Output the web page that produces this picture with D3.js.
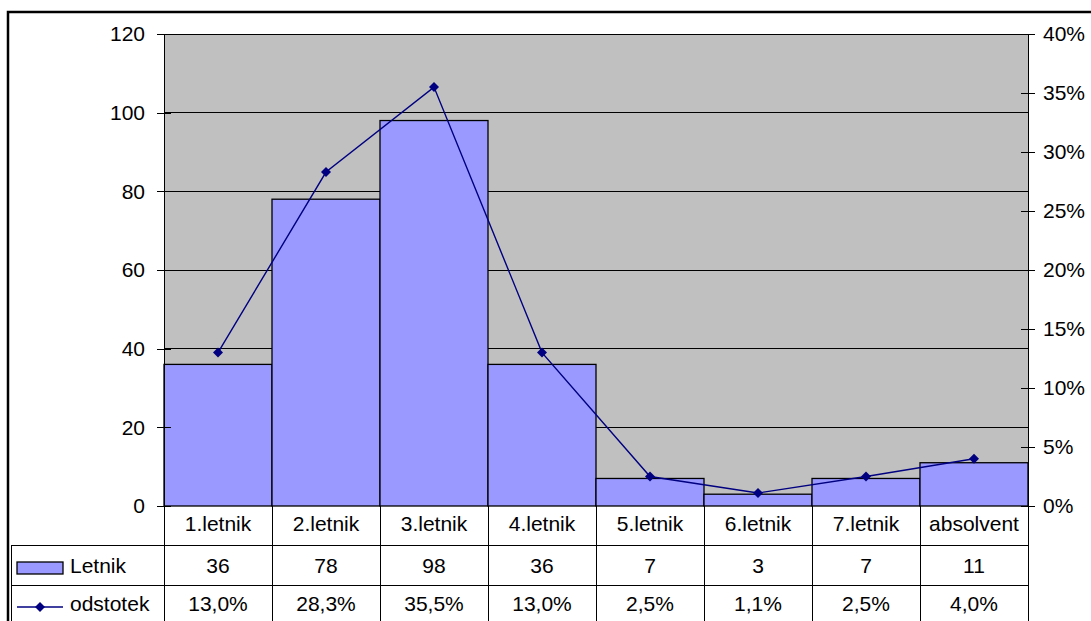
<!DOCTYPE html>
<html>
<head>
<meta charset="utf-8">
<script src="https://cdn.jsdelivr.net/npm/d3@7"></script>
<style>
  html, body { margin: 0; padding: 0; background: #fff; }
  svg { display: block; }
  text { font-family: "Liberation Sans", Arial, sans-serif; font-size: 21px; fill: #000; }
</style>
</head>
<body>
<svg id="chart" width="1091" height="621"></svg>
<script>
// Students per study year (count) and their share (percent)
const categories = ["1.letnik", "2.letnik", "3.letnik", "4.letnik", "5.letnik", "6.letnik", "7.letnik", "absolvent"];
const letnik = [36, 78, 98, 36, 7, 3, 7, 11];
const odstotek = [13.0, 28.3, 35.5, 13.0, 2.5, 1.1, 2.5, 4.0];
const leftTicks = [0, 20, 40, 60, 80, 100, 120];
const rightTicks = [0, 5, 10, 15, 20, 25, 30, 35, 40];
const seriesNames = ["Letnik", "odstotek"];

const svg = d3.select("#chart");
const plot = { left: 164, right: 1028, top: 34, bottom: 506 };
const rowY = [506, 545, 585, 621];
const tableLeft = 11;
const axisFont = 19.8;

const x = d3.scaleBand().domain(categories).range([plot.left, plot.right]).padding(0);
const yL = d3.scaleLinear().domain([0, 120]).range([plot.bottom, plot.top]);
const yR = d3.scaleLinear().domain([0, 40]).range([plot.bottom, plot.top]);

const pctFmt = v => d3.format(".1f")(v).replace(".", ",") + "%";

// Plot background
svg.append("rect")
  .attr("x", plot.left).attr("y", plot.top)
  .attr("width", plot.right - plot.left).attr("height", plot.bottom - plot.top)
  .attr("fill", "#c0c0c0");

// Horizontal gridlines
svg.append("g").selectAll("line")
  .data(leftTicks.filter(d => d > 0))
  .join("line")
  .attr("x1", plot.left).attr("x2", plot.right)
  .attr("y1", d => yL(d)).attr("y2", d => yL(d))
  .attr("stroke", "#000").attr("stroke-width", 1)
  .attr("shape-rendering", "crispEdges");

// Bars
svg.append("g").selectAll("rect")
  .data(letnik)
  .join("rect")
  .attr("x", (d, i) => x(categories[i]))
  .attr("y", d => yL(d))
  .attr("width", x.bandwidth())
  .attr("height", d => yL(0) - yL(d))
  .attr("fill", "#9999ff")
  .attr("stroke", "#000").attr("stroke-width", 1.3);

// Left axis
const leftAxis = d3.axisLeft(yL).tickValues(leftTicks).tickSizeInner(7).tickSizeOuter(0).tickPadding(12);
const gL = svg.append("g").attr("transform", `translate(${plot.left},0)`).call(leftAxis);
gL.selectAll(".tick line").attr("x2", 7).attr("x1", -7);
gL.select(".domain").attr("stroke", "#000");
gL.selectAll("text").attr("font-size", axisFont).attr("font-family", "Liberation Sans, Arial, sans-serif");

// Right axis
const rightAxis = d3.axisRight(yR).tickValues(rightTicks).tickFormat(d => d + "%").tickSizeInner(7).tickSizeOuter(0).tickPadding(8);
const gR = svg.append("g").attr("transform", `translate(${plot.right},0)`).call(rightAxis);
gR.selectAll(".tick line").attr("x1", -7).attr("x2", 7);
gR.select(".domain").attr("stroke", "#000");
gR.selectAll("text").attr("font-size", axisFont).attr("font-family", "Liberation Sans, Arial, sans-serif");
[gL, gR].forEach(g => g.selectAll("line, path").attr("shape-rendering", "crispEdges"));

// Percent line with diamond markers
const cx = (d, i) => x(categories[i]) + x.bandwidth() / 2;
svg.append("path")
  .datum(odstotek)
  .attr("d", d3.line().x(cx).y(d => yR(d)))
  .attr("fill", "none").attr("stroke", "#000080").attr("stroke-width", 1.4);
const diamond = d3.symbol().type(d3.symbolDiamond2).size(64);
svg.append("g").selectAll("path")
  .data(odstotek)
  .join("path")
  .attr("d", diamond)
  .attr("transform", (d, i) => `translate(${cx(d, i)},${yR(d)})`)
  .attr("fill", "#000080");

// Data table
const table = svg.append("g").attr("stroke", "#000").attr("stroke-width", 1).attr("shape-rendering", "crispEdges");
// vertical separators at category boundaries
const bounds = categories.map(c => x(c)).concat([plot.right]);
table.selectAll("line.v")
  .data(bounds)
  .join("line")
  .attr("class", "v")
  .attr("x1", d => d).attr("x2", d => d)
  .attr("y1", rowY[0]).attr("y2", 621);
// horizontal row separators
table.selectAll("line.h")
  .data([rowY[1], rowY[2]])
  .join("line")
  .attr("class", "h")
  .attr("x1", tableLeft).attr("x2", plot.right)
  .attr("y1", d => d).attr("y2", d => d);
table.append("line")
  .attr("x1", tableLeft).attr("x2", tableLeft)
  .attr("y1", rowY[1]).attr("y2", 621);

const cellText = (vals, row, fmt, dyOff) => svg.append("g").selectAll("text")
  .data(vals)
  .join("text")
  .attr("x", (d, i) => x(categories[i]) + x.bandwidth() / 2)
  .attr("y", (rowY[row] + rowY[row + 1]) / 2 + dyOff)
  .attr("dy", "0.36em")
  .attr("text-anchor", "middle")
  .text(fmt);

cellText(categories, 0, d => d, -2);
cellText(letnik, 1, d => d, 0);
cellText(odstotek, 2, pctFmt, 0);

// Legend keys in the table
const midL = 568;
svg.append("rect")
  .attr("x", 17).attr("y", midL - 6).attr("width", 46).attr("height", 12)
  .attr("fill", "#9999ff").attr("stroke", "#000").attr("stroke-width", 1.3);
svg.append("text").attr("x", 70).attr("y", (rowY[1] + rowY[2]) / 2).attr("dy", "0.36em").text(seriesNames[0]);

const midO = 607;
svg.append("line")
  .attr("x1", 17).attr("x2", 63).attr("y1", midO).attr("y2", midO)
  .attr("stroke", "#000080").attr("stroke-width", 1.4);
svg.append("path").attr("d", diamond).attr("transform", `translate(40,${midO})`).attr("fill", "#000080");
svg.append("text").attr("x", 70).attr("y", (rowY[2] + rowY[3]) / 2).attr("dy", "0.36em").text(seriesNames[1]);

// Outer chart frame
svg.append("path")
  .attr("d", `M8,630 V12 H1100`)
  .attr("fill", "none").attr("stroke", "#000").attr("stroke-width", 2.5);
</script>
</body>
</html>
